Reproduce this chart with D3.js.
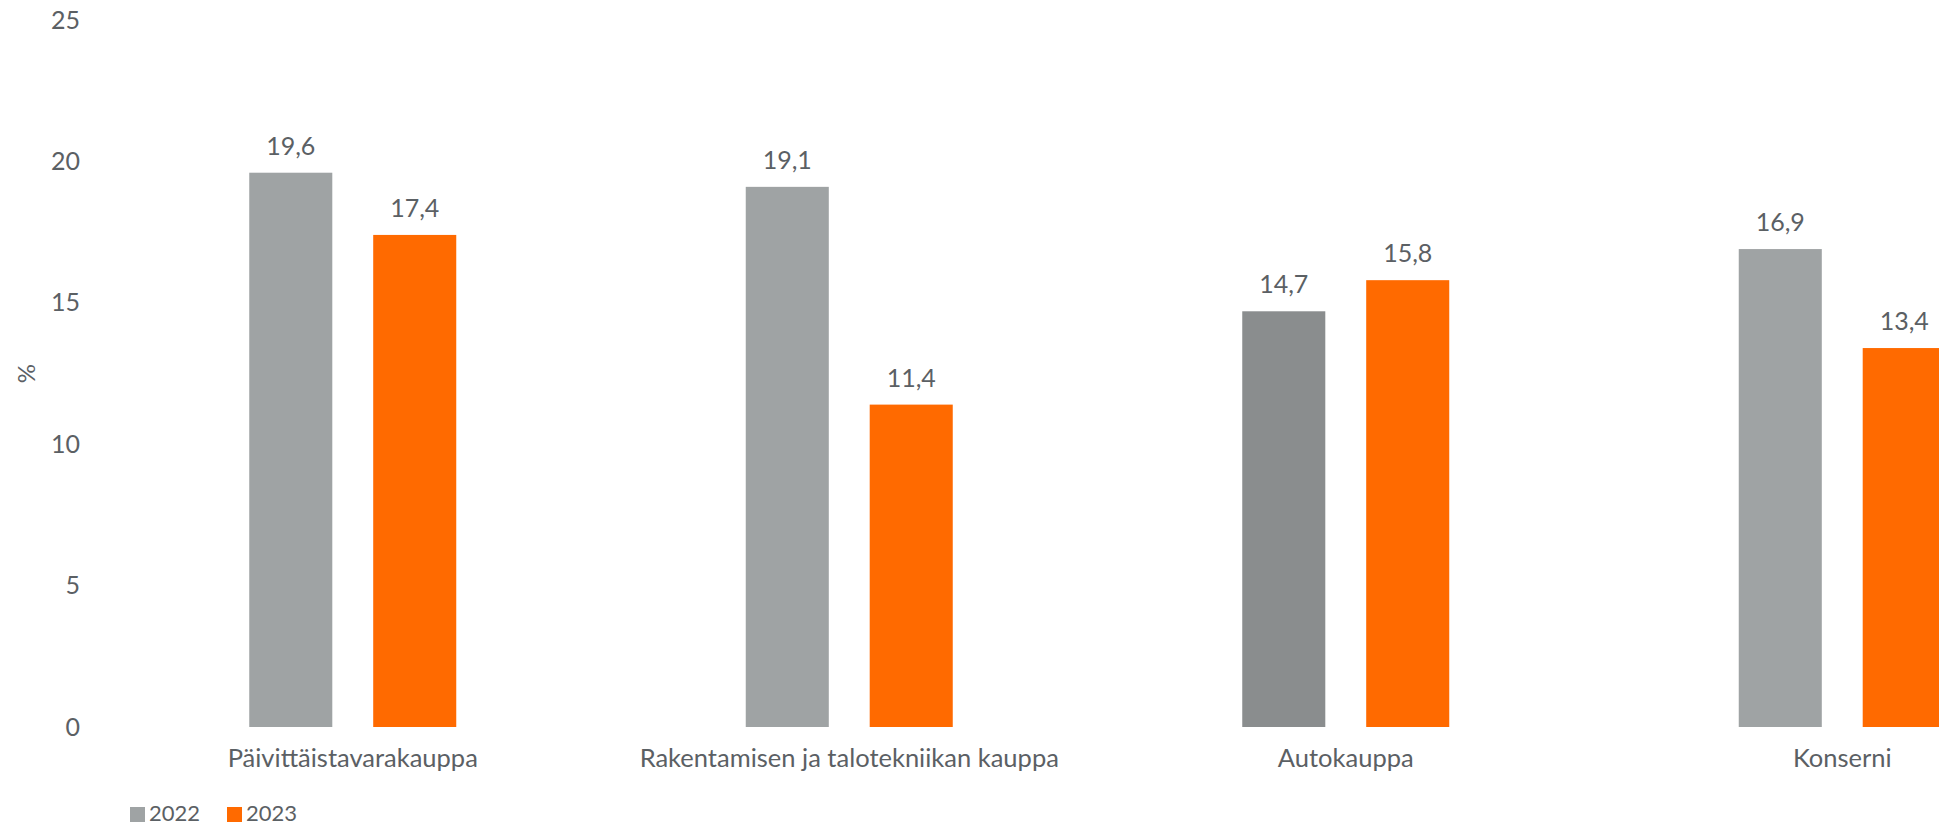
<!DOCTYPE html>
<html>
<head>
<meta charset="utf-8">
<script src="https://cdn.jsdelivr.net/npm/d3@7"></script>
<style>
    body { margin: 0; background: #fff; }
    svg text { font-family: Lato, "Open Sans", sans-serif; fill: #5b6064; }
</style>
</head>
<body>
<div id="chart"></div>
<script>
// Chart data
const categories = ["Päivittäistavarakauppa", "Rakentamisen ja talotekniikan kauppa", "Autokauppa", "Konserni"];
const series = ["2022", "2023"];
const values2022 = [19.6, 19.1, 14.7, 16.9];
const values2023 = [17.4, 11.4, 15.8, 13.4];
const yTicks = [0, 5, 10, 15, 20, 25];

const width = 1939;
const height = 826;

// Colors
const colGray = "#9fa3a4";
const colGrayDark = "#8a8d8e"; // Autokauppa 2022 bar is a bit darker
const colOrange = "#ff6a00";

// Finnish number format (comma as decimal mark)
const fi = d3.formatLocale({ decimal: ",", thousands: " ", grouping: [3], currency: ["", " €"] });
const fmt = fi.format(".1f");

let svg = d3.select("#chart")
    .append("svg")
    .attr("width", width)
    .attr("height", height);

// Scales - the plot runs past the right edge, like in the original
let x0 = d3.scaleBand()
    .domain(categories)
    .range([104.5, 2090.5])
    .padding(0);

let x1 = d3.scaleBand()
    .domain(series)
    .range([-103.5, 103.5])
    .paddingInner(0.33);

let y = d3.scaleLinear()
    .domain([0, 25])
    .range([727, 20]);

// Y axis (labels only)
let axisY = d3.axisLeft(y).tickValues(yTicks).tickSize(0).tickPadding(0);
svg.append("g")
    .attr("transform", "translate(80,0)")
    .call(axisY)
    .call(g => g.select(".domain").remove())
    .selectAll("text")
    .style("font-size", "25px")
    .attr("fill", "#5b6064");

svg.append("text")
    .attr("transform", "translate(27," + y(12.5) + ") rotate(-90)")
    .attr("text-anchor", "middle")
    .attr("dy", "0.35em")
    .style("font-size", "24px")
    .text("%");

// Build rows for the bars
let rows = [];
for (let i = 0; i < categories.length; i++) {
    rows.push({ cat: categories[i], key: "2022", value: values2022[i] });
    rows.push({ cat: categories[i], key: "2023", value: values2023[i] });
}

function barColor(d) {
    if (d.key === "2023") return colOrange;
    return d.cat === "Autokauppa" ? colGrayDark : colGray;
}

function barX(d) {
    return x0(d.cat) + x0.bandwidth() / 2 + x1(d.key);
}

svg.append("g")
    .selectAll("rect")
    .data(rows)
    .enter().append("rect")
    .attr("x", barX)
    .attr("width", x1.bandwidth())
    .attr("y", d => y(d.value))
    .attr("height", d => y(0) - y(d.value))
    .attr("fill", barColor);

// Value labels
svg.append("g")
    .selectAll("text")
    .data(rows)
    .enter().append("text")
    .attr("x", d => barX(d) + x1.bandwidth() / 2)
    .attr("y", d => y(d.value) - 18)
    .attr("text-anchor", "middle")
    .style("font-size", "25px")
    .text(d => fmt(d.value));

// Category labels
svg.append("g")
    .selectAll("text")
    .data(categories)
    .enter().append("text")
    .attr("x", d => x0(d) + x0.bandwidth() / 2)
    .attr("y", 767)
    .attr("text-anchor", "middle")
    .style("font-size", "25.5px")
    .text(d => d);

// Legend
let legend = svg.append("g").attr("transform", "translate(130,807)");
let legendX = [0, 97];
series.forEach((s, i) => {
    let g = legend.append("g").attr("transform", "translate(" + legendX[i] + ",0)");
    g.append("rect")
        .attr("width", 15)
        .attr("height", 15)
        .attr("fill", i === 0 ? colGray : colOrange);
    g.append("text")
        .attr("x", 19)
        .attr("y", 14)
        .style("font-size", "22px")
        .text(s);
});
</script>
</body>
</html>
